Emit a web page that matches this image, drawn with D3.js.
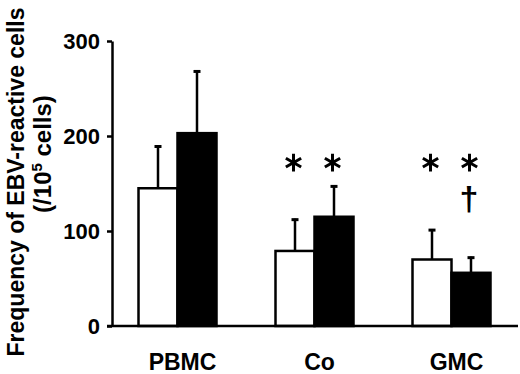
<!DOCTYPE html>
<html>
<head>
<meta charset="utf-8">
<script src="https://cdn.jsdelivr.net/npm/d3@7"></script>
<style>
  body { margin: 0; background: #fff; }
  text { font-family: "Liberation Sans", Arial, sans-serif; font-weight: bold; }
</style>
</head>
<body>
<script>
// data
const groups = ["PBMC", "Co", "GMC"];
const whiteVals = [145, 79, 70];
const whiteErr = [190, 113, 102];
const blackVals = [203, 115, 56];
const blackErr = [269, 148, 73];
const yTicks = [0, 100, 200, 300];
// significance marks: [group, series]
const stars = [["Co", "w"], ["Co", "b"], ["GMC", "w"], ["GMC", "b"]];
const daggers = [["GMC", "b"]];
const starLevel = 172;
const daggerLevel = 135;

const W = 520, H = 374;
const svg = d3.select("body").append("svg")
    .attr("width", W)
    .attr("height", H);

// scales
const x = d3.scaleBand().domain(groups).range([109, 520]);
const y = d3.scaleLinear().domain([0, 300]).range([326, 41]);
const barW = 39;
const barX = (g, s) => x(g) + x.bandwidth() / 2 + (s === "w" ? -barW : 0);

// y axis
const yAxis = svg.append("g")
    .attr("transform", "translate(112,0)")
    .call(d3.axisLeft(y).tickValues(yTicks).tickSize(5).tickSizeOuter(0).tickPadding(7));
yAxis.select(".domain").attr("stroke", "#000").attr("stroke-width", 2.5);
yAxis.selectAll(".tick line").attr("stroke", "#000").attr("stroke-width", 2.5);
yAxis.selectAll(".tick text")
    .attr("font-size", 22)
    .attr("font-family", "Liberation Sans, Arial, sans-serif")
    .attr("font-weight", "bold")
    .attr("fill", "#000");

// y title
svg.append("text")
    .attr("transform", "translate(24,182) rotate(-90)")
    .attr("text-anchor", "middle")
    .attr("font-size", 23)
    .text("Frequency of EBV-reactive cells");
const t2 = svg.append("text")
    .attr("transform", "translate(51,154) rotate(-90)")
    .attr("text-anchor", "middle")
    .attr("font-size", 24);
t2.append("tspan").text("(/10");
t2.append("tspan").attr("font-size", 15).attr("dy", -9).text("5");
t2.append("tspan").attr("dy", 9).text(" cells)");

// bars
const rows = [];
groups.forEach((g, i) => {
    rows.push({g: g, s: "w", v: whiteVals[i], e: whiteErr[i]});
    rows.push({g: g, s: "b", v: blackVals[i], e: blackErr[i]});
});

// error bars (drawn first so bar outline sits over them)
svg.selectAll(".err")
    .data(rows)
    .join("line")
    .attr("x1", d => barX(d.g, d.s) + barW / 2)
    .attr("x2", d => barX(d.g, d.s) + barW / 2)
    .attr("y1", d => y(d.v))
    .attr("y2", d => y(d.e))
    .attr("stroke", "#000")
    .attr("stroke-width", 2.5);
svg.selectAll(".cap")
    .data(rows)
    .join("line")
    .attr("x1", d => barX(d.g, d.s) + barW / 2 - 3.5)
    .attr("x2", d => barX(d.g, d.s) + barW / 2 + 3.5)
    .attr("y1", d => y(d.e) + 1)
    .attr("y2", d => y(d.e) + 1)
    .attr("stroke", "#000")
    .attr("stroke-width", 3);

svg.selectAll(".bar")
    .data(rows)
    .join("rect")
    .attr("x", d => barX(d.g, d.s))
    .attr("y", d => y(d.v))
    .attr("width", barW)
    .attr("height", d => y(0) - y(d.v))
    .attr("fill", d => d.s === "w" ? "#fff" : "#000")
    .attr("stroke", "#000")
    .attr("stroke-width", 2.5);

// x baseline
svg.append("line")
    .attr("x1", 107).attr("x2", 518)
    .attr("y1", y(0)).attr("y2", y(0))
    .attr("stroke", "#000")
    .attr("stroke-width", 2.5);

// x labels
svg.selectAll(".xl")
    .data(groups)
    .join("text")
    .attr("x", d => x(d) + x.bandwidth() / 2 + 5)
    .attr("y", 370)
    .attr("text-anchor", "middle")
    .attr("font-size", 23)
    .text(d => d);

// asterisks
const star = d3.symbol().type(d3.symbolAsterisk).size(220);
svg.selectAll(".star")
    .data(stars)
    .join("path")
    .attr("transform", d => `translate(${barX(d[0], d[1]) + barW / 2 - 1.5},${y(starLevel)})`)
    .attr("d", star)
    .attr("fill", "none")
    .attr("stroke", "#000")
    .attr("stroke-width", 3);

// dagger
svg.selectAll(".dag")
    .data(daggers)
    .join("text")
    .attr("x", d => barX(d[0], d[1]) + barW / 2 - 2)
    .attr("y", y(daggerLevel) + 12)
    .attr("text-anchor", "middle")
    .attr("font-size", 34)
    .attr("font-weight", "normal")
    .text("\u2020");
</script>
</body>
</html>
